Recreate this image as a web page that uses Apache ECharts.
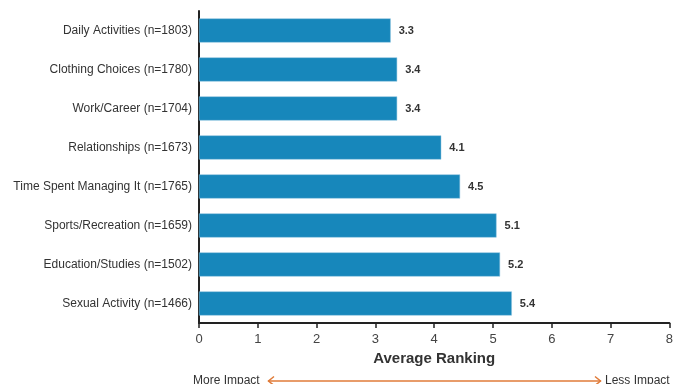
<!DOCTYPE html>
<html>
<head>
<meta charset="utf-8">
<script src="https://cdn.jsdelivr.net/npm/echarts@6/dist/echarts.min.js"></script>
<style>html,body{margin:0;padding:0;background:#fff}#c{width:676px;height:384px}</style>
</head>
<body>
<div id="c"></div>
<script>
const categories = ["Daily Activities (n=1803)","Clothing Choices (n=1780)","Work/Career (n=1704)","Relationships (n=1673)","Time Spent Managing It (n=1765)","Sports/Recreation (n=1659)","Education/Studies (n=1502)","Sexual Activity (n=1466)"];
const values = [3.26, 3.37, 3.37, 4.12, 4.44, 5.06, 5.12, 5.32];
const valueLabels = ["3.3","3.4","3.4","4.1","4.5","5.1","5.2","5.4"];
const xTicks = [0,1,2,3,4,5,6,7,8];

const chart = echarts.init(document.getElementById('c'), null, {renderer:'canvas'});
const font = 'Liberation Sans, Arial, sans-serif';
chart.setOption({
  animation: false,
  grid: {left: 199, right: 2, top: 11, bottom: 61, containLabel: false},
  xAxis: {
    type: 'value', min: xTicks[0], max: xTicks[xTicks.length-1], interval: 1,
    axisLine: {show: true, lineStyle: {color: '#222', width: 2}},
    axisTick: {show: true, length: 5, lineStyle: {color: '#222', width: 1.5}},
    splitLine: {show: false},
    axisLabel: {color: '#444', fontSize: 13, fontFamily: font, margin: 10},
    name: 'Average Ranking', nameLocation: 'middle', nameGap: 28,
    nameTextStyle: {fontSize: 15, fontWeight: 'bold', color: '#333', fontFamily: font}
  },
  yAxis: {
    type: 'category', data: categories, inverse: true,
    axisLine: {show: true, lineStyle: {color: '#222', width: 2}},
    axisTick: {show: false},
    axisLabel: {color: '#333', fontSize: 12, fontFamily: font, margin: 7}
  },
  series: [{
    type: 'bar', data: values, barCategoryGap: '38%',
    itemStyle: {color: '#1787BB', borderColor: '#8cc3df', borderWidth: 0.5},
    label: {show: true, position: 'right', distance: 8, fontSize: 11, fontWeight: 'bold', color: '#333', fontFamily: font,
      formatter: p => valueLabels[p.dataIndex]}
  }],
  graphic: [
    {type: 'text', left: 193, top: 375, style: {text: 'More Impact', fontSize: 12, fill: '#333', fontFamily: font}},
    {type: 'text', left: 605, top: 375, style: {text: 'Less Impact', fontSize: 12, fill: '#333', fontFamily: font}},
    {type: 'line', shape: {x1: 268, y1: 381, x2: 601, y2: 381}, style: {stroke: '#E07B39', lineWidth: 1.5}},
    {type: 'polyline', shape: {points: [[274, 376.5],[268.5, 381],[274, 385.5]]}, style: {stroke: '#E07B39', lineWidth: 1.5, fill: null}},
    {type: 'polyline', shape: {points: [[595, 376.5],[600.5, 381],[595, 385.5]]}, style: {stroke: '#E07B39', lineWidth: 1.5, fill: null}}
  ]
});
</script>
</body>
</html>
